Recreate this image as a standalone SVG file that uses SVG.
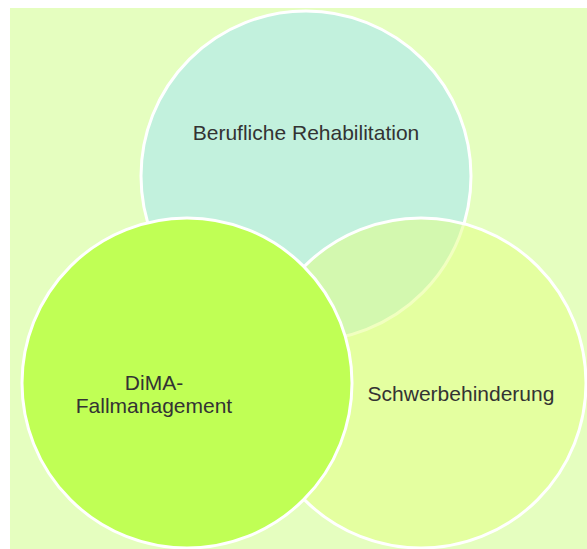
<svg xmlns="http://www.w3.org/2000/svg" width="587" height="549" viewBox="0 0 587 549">
<style>
.c{stroke:#ffffff;stroke-width:3}
.t{font-family:"Liberation Sans",Arial,sans-serif;font-size:21px;fill:#333333;text-anchor:middle}
</style>
<rect x="0" y="0" width="587" height="549" fill="#ffffff"/>
<rect x="10" y="8" width="577" height="541" fill="#E5FEBF"/>
<g id="node-rehabilitation">
<circle class="c" cx="306" cy="176" r="165" fill="#C2F1DD"/>
<text class="t" x="306" y="140">Berufliche Rehabilitation</text>
</g>
<g id="node-schwerbehinderung">
<circle cx="421" cy="383" r="165" fill="#E4FF82" fill-opacity="0.5" stroke="#ffffff" stroke-width="3"/>
<text class="t" x="461" y="401">Schwerbehinderung</text>
</g>
<g id="node-dima">
<circle class="c" cx="187" cy="383" r="165" fill="#C0FF55"/>
<text class="t" x="154" y="390">DiMA-</text>
<text class="t" x="154" y="413">Fallmanagement</text>
</g>
<g id="connectors"></g>
</svg>
